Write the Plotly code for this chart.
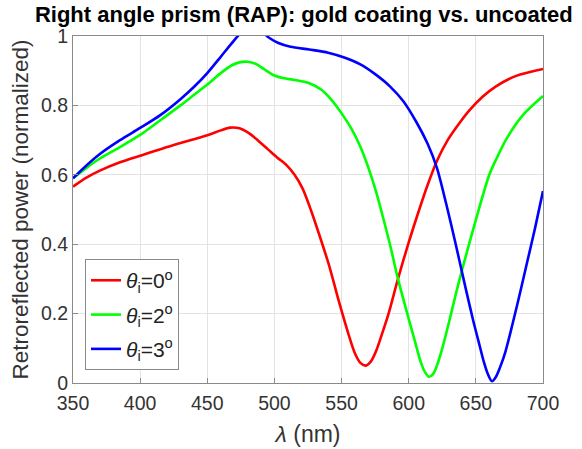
import plotly.graph_objects as go

# Wavelength samples (nm) and retroreflected power for each incidence angle
wl_red = [350, 360, 370, 385, 400, 425, 450, 460, 467, 474, 481, 488, 495, 502, 509,
          515, 521, 527, 534, 541, 548, 556, 560, 564, 568, 572, 576, 580, 585, 592,
          600, 607, 614, 621, 629, 637, 645, 655, 665, 680, 700]
p_red = [0.566, 0.592, 0.612, 0.636, 0.655, 0.686, 0.714, 0.728, 0.736, 0.734, 0.72,
         0.698, 0.674, 0.65, 0.628, 0.60, 0.56, 0.50, 0.42, 0.335, 0.235, 0.13, 0.085,
         0.058, 0.05, 0.063, 0.095, 0.14, 0.20, 0.30, 0.405, 0.49, 0.57, 0.64, 0.70,
         0.745, 0.785, 0.825, 0.855, 0.885, 0.905]

wl_green = [350, 360, 370, 385, 400, 415, 430, 440, 450, 460, 468, 474, 480, 486, 492,
            500, 507, 514, 526, 535, 542, 550, 557, 564, 570, 576, 580, 586, 592, 600,
            605, 609, 612, 615, 618, 621, 625, 630, 635, 640, 650, 660, 667, 673, 685, 700]
p_green = [0.59, 0.62, 0.647, 0.68, 0.715, 0.757, 0.80, 0.83, 0.86, 0.893, 0.915, 0.924,
           0.926, 0.92, 0.905, 0.886, 0.878, 0.874, 0.864, 0.845, 0.818, 0.777, 0.735,
           0.681, 0.62, 0.547, 0.49, 0.40, 0.30, 0.185, 0.115, 0.06, 0.032, 0.018, 0.025,
           0.05, 0.10, 0.175, 0.255, 0.33, 0.47, 0.60, 0.66, 0.705, 0.772, 0.827]

wl_blue = [350, 360, 370, 385, 400, 415, 430, 440, 450, 460, 468, 474, 480, 485, 490,
           496, 503, 512, 526, 540, 552, 564, 575, 586, 596, 606, 614, 621, 628, 635,
           642, 648, 652, 656, 659, 662, 665, 668, 672, 677, 682, 688, 694, 700]
p_blue = [0.59, 0.627, 0.66, 0.70, 0.735, 0.772, 0.818, 0.853, 0.893, 0.94, 0.978, 1.005,
          1.022, 1.025, 1.015, 0.995, 0.98, 0.969, 0.961, 0.952, 0.938, 0.918, 0.89,
          0.855, 0.812, 0.75, 0.69, 0.62, 0.515, 0.40, 0.28, 0.18, 0.12, 0.06, 0.025,
          0.005, 0.018, 0.045, 0.09, 0.165, 0.245, 0.345, 0.445, 0.553]

series = [
    (wl_red, p_red, "#ff0000", "<i>θ</i><sub>i</sub>=0<sup>o</sup>"),
    (wl_green, p_green, "#00ff00", "<i>θ</i><sub>i</sub>=2<sup>o</sup>"),
    (wl_blue, p_blue, "#0000ff", "<i>θ</i><sub>i</sub>=3<sup>o</sup>"),
]

x_ticks = [350, 400, 450, 500, 550, 600, 650, 700]
y_ticks = [0, 0.2, 0.4, 0.6, 0.8, 1]
y_tick_text = ["0", "0.2", "0.4", "0.6", "0.8", "1"]

fig = go.Figure()
for i, (wl, p, color, name) in enumerate(series):
    fig.add_trace(go.Scatter(
        x=wl, y=p, mode="lines", name=name, legendgroup=f"g{i}",
        line=dict(color=color, width=2.6, shape="spline", smoothing=0.8),
    ))

font = "Liberation Sans, Arial, Helvetica, sans-serif"
axis_common = dict(
    showgrid=True, gridcolor="#e3e3e3", gridwidth=1,
    showline=True, linecolor="#8a8a8a", linewidth=1, mirror=True,
    ticks="inside", ticklen=5, tickcolor="#8a8a8a",
    tickfont=dict(family=font, size=19.5, color="#333333"),
    zeroline=False, automargin=False,
)

fig.update_layout(
    width=582, height=449,
    margin=dict(l=73, r=39, t=36, b=66),
    paper_bgcolor="white", plot_bgcolor="white",
    title=dict(
        text="<b>Right angle prism (RAP): gold coating vs. uncoated</b>",
        x=0.522, xanchor="center", y=0.968, yanchor="middle",
        font=dict(family=font, size=22, color="#000000"),
    ),
    xaxis=dict(
        range=[350, 700], tickvals=x_ticks, ticklabelstandoff=3,
        title=dict(text="<i>λ</i> (nm)", font=dict(family=font, size=23, color="#333333"), standoff=12),
        **axis_common,
    ),
    yaxis=dict(
        range=[0, 1], tickvals=y_ticks, ticktext=y_tick_text,
        title=dict(text="Retroreflected power (normalized)",
                   font=dict(family=font, size=22.5, color="#333333"), standoff=6),
        **axis_common,
    ),
    legend=dict(
        x=0.0255, y=0.357, xanchor="left", yanchor="top",
        bgcolor="white", bordercolor="#8a8a8a", borderwidth=1,
        font=dict(family=font, size=21, color="#222222"),
        tracegroupgap=4,
    ),
)

fig.write_html("out.html")
